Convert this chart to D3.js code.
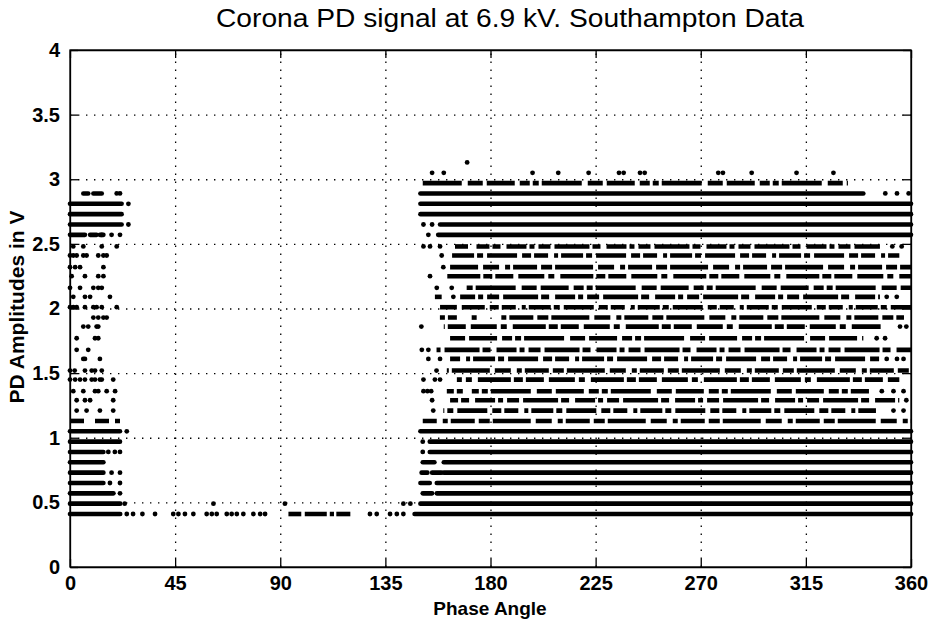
<!DOCTYPE html>
<html>
<head>
<meta charset="utf-8">
<script src="https://cdn.jsdelivr.net/npm/d3@7"></script>
<style>
body { margin: 0; background: #fff; }
svg text { font-family: Arial, "Liberation Sans", sans-serif; fill: #000; }
.grid line { stroke: #000; stroke-width: 1.3; stroke-dasharray: 1.4 6.6; }
.grid path { display: none; }
.axis path, .axis line { stroke: #000; stroke-width: 1.3; }
.axis text { font-size: 20px; font-weight: bold; }
</style>
</head>
<body>
<svg id="chart" width="938" height="623"></svg>
<script>
// ---- data ----
const xTicks = [0, 45, 90, 135, 180, 225, 270, 315, 360];
const yTicks = [0, 0.5, 1, 1.5, 2, 2.5, 3, 3.5, 4];

// quantised amplitude levels (V)
const levels = [0.41, 0.49, 0.57, 0.65, 0.73, 0.81, 0.89, 0.97, 1.05, 1.13, 1.21, 1.29, 1.36, 1.45, 1.52, 1.61, 1.68,
    1.77, 1.86, 1.93, 2.01, 2.09, 2.16, 2.25, 2.32, 2.41, 2.48, 2.57, 2.65, 2.73, 2.81, 2.89, 2.97];

// continuous runs of pulses, [from, to] phase, one list per level
const solidRuns = [
    [[0, 21.5], [147.5, 360]],
    [[0, 21.5], [150, 360]],
    [[0, 18.6], [151, 155], [157, 360]],
    [[0, 14.3], [150, 154], [157, 360]],
    [[0, 14.3], [150.5, 153], [155, 159], [160, 360]],
    [[0, 14.3], [151, 156], [160, 360]],
    [[0, 14.3], [154, 360]],
    [[0, 21.4], [154, 360]],
    [[0, 21.4], [150, 360]],
    [], [], [], [], [], [], [], [], [], [], [], [], [], [], [], [], [], [],
    [[0, 6.4], [8.6, 11.4], [12.8, 14.3], [157.6, 360]],
    [[0, 22.1], [158.4, 360]],
    [[0, 22.1], [150, 360]],
    [[0, 22.1], [150, 360]],
    [[5.7, 7.8], [10, 13.6], [150, 339.6]],
    []
];

// broken runs (pulses with small gaps), one list per level
const brokenRuns = [
    [[93.5, 99], [100.5, 113], [114, 120]],
    [], [], [], [], [], [], [], [],
    [[0, 6.4], [10.7, 21.4], [151, 360]],
    [[159.8, 345]],
    [[162.7, 355]],
    [[161.3, 168.4], [172, 342]],
    [[165.6, 355]],
    [[161.3, 360]],
    [[162.7, 346.7]],
    [[156.9, 360]],
    [[162.7, 339.6]],
    [[160, 347]],
    [[156.2, 165.6], [169.8, 174.8], [182.5, 357]],
    [[158.4, 165.6], [167.7, 360]],
    [[156.2, 159.1], [167, 346.7]],
    [[169.8, 360]],
    [[159.8, 360]],
    [[162.7, 360]],
    [[162.7, 355]],
    [[164.8, 171.3], [174, 346.7]],
    [], [], [], [], [],
    [[151, 333]]
];

// single pulses, phase values per level
const singlePulses = [
    [24.3, 27, 31, 36.4, 44.2, 46.4, 49.2, 52.8, 58.5, 60.7, 62.8, 67.1, 69.2, 71.4, 74.2, 78.5, 81.4, 83.5,
        128.4, 131.3, 137, 139.9, 142.7],
    [23.4, 61.4, 92, 142.7, 145.7],
    [21.4],
    [17.1, 21.4],
    [17.8, 21.4],
    [],
    [16.4, 19.2, 21.4, 151],
    [151],
    [24.3],
    [],
    [2.85, 7.1, 12.8, 18.5, 155.5, 352.5, 356.8],
    [2.85, 6.4, 8.6, 18.5, 155, 358],
    [1.4, 5.7, 10.7, 12.1, 15.7, 19.3, 151.3, 153, 154.6, 347.5, 352.5, 356.8],
    [0, 2.2, 4.3, 6.4, 9.3, 10.7, 12.8, 13.6, 18.5, 151.3, 156.2, 158.4],
    [0, 2, 6.4, 9.3, 10.7, 13.6, 156.9],
    [5.7, 6.4, 12.8, 153.4, 158.4, 349.6, 354, 356.8],
    [2.85, 7.8, 150.6, 153.4],
    [2.85, 10.7, 12.1, 345.3, 348.9],
    [5.7, 7.8, 11.4, 12.1, 150.4, 355.3, 358],
    [10, 12.1, 14.3, 15.7],
    [0, 1.4, 2.85, 6.4, 10, 11.4, 13.6, 20],
    [1.4, 6.4, 8.6, 17.1, 164.1, 349.6, 353.9],
    [0, 4.3, 10, 12.1, 13.6, 157, 163.4],
    [0.7, 6.4, 12.1, 14.3, 154.1],
    [0, 2.2, 4.3, 14.3, 159.8],
    [0, 1.4, 2.85, 5.7, 7.1, 12.1, 14.3, 15.7, 159.1],
    [1.4, 5.7, 13.6, 20, 151.3, 154.1, 158.4, 352, 356],
    [13.6, 17.8, 21.4, 153.4],
    [25, 151.3, 155],
    [],
    [25],
    [20, 21.4, 349, 354, 359],
    []
];

// the few pulses above 3 V
const topPhases = [155, 160, 170, 198, 209, 222, 235, 237, 244, 246, 277.5, 279.5, 291.8, 311, 326.8];
const topAmps = [3.05, 3.05, 3.13, 3.05, 3.05, 3.05, 3.05, 3.05, 3.05, 3.05, 3.05, 3.05, 3.05, 3.05, 3.05];

// ---- layout ----
const margin = {top: 50, right: 27, bottom: 56, left: 70},
    width = 938 - margin.left - margin.right,
    height = 623 - margin.top - margin.bottom;

const svg = d3.select("#chart")
    .append("g")
    .attr("transform", "translate(" + margin.left + "," + margin.top + ")");

const x = d3.scaleLinear().domain([0, 360]).range([0, width]);
const y = d3.scaleLinear().domain([0, 4]).range([height, 0]);

// dotted grid
svg.append("g")
    .attr("class", "grid")
    .attr("transform", "translate(0," + height + ")")
    .call(d3.axisBottom(x).tickValues(xTicks.slice(1, -1)).tickSize(-height).tickFormat(""));

svg.append("g")
    .attr("class", "grid")
    .call(d3.axisLeft(y).tickValues(yTicks.slice(1, -1)).tickSize(-width).tickFormat(""));

// irregular dash patterns for the broken runs
const dashes = ["22 3 6 4 30 5 9 3 14 6 4 3", "12 4 35 3 8 6 20 3 5 4", "28 5 10 3 6 3 40 6 15 4",
    "9 3 18 5 26 4 6 6 33 3", "16 6 5 3 24 4 11 3 38 5"];

const brokenLines = [];
brokenRuns.forEach(function (runs, i) {
    runs.forEach(function (r) { brokenLines.push({amp: levels[i], from: r[0], to: r[1], k: i}); });
});
svg.selectAll(".broken")
    .data(brokenLines)
    .enter().append("line")
    .attr("class", "broken")
    .attr("x1", function (d) { return x(d.from); })
    .attr("x2", function (d) { return x(d.to); })
    .attr("y1", function (d) { return y(d.amp); })
    .attr("y2", function (d) { return y(d.amp); })
    .attr("stroke", "#000")
    .attr("stroke-width", 4.6)
    .attr("stroke-dasharray", function (d) { return dashes[d.k % dashes.length]; })
    .attr("stroke-dashoffset", function (d) { return d.k * 13; });

const solidLines = [];
solidRuns.forEach(function (runs, i) {
    runs.forEach(function (r) { solidLines.push({amp: levels[i], from: r[0], to: r[1]}); });
});
svg.selectAll(".solid")
    .data(solidLines)
    .enter().append("line")
    .attr("class", "solid")
    .attr("x1", function (d) { return x(d.from); })
    .attr("x2", function (d) { return x(d.to); })
    .attr("y1", function (d) { return y(d.amp); })
    .attr("y2", function (d) { return y(d.amp); })
    .attr("stroke", "#000")
    .attr("stroke-width", 4.6)
    .attr("stroke-linecap", "round");

const dots = [];
singlePulses.forEach(function (ph, i) {
    ph.forEach(function (p) { dots.push({phase: p, amp: levels[i]}); });
});
topPhases.forEach(function (p, i) { dots.push({phase: p, amp: topAmps[i]}); });

svg.selectAll(".pulse")
    .data(dots)
    .enter().append("circle")
    .attr("class", "pulse")
    .attr("cx", function (d) { return x(d.phase); })
    .attr("cy", function (d) { return y(d.amp); })
    .attr("r", 2.4)
    .attr("fill", "#000");

// axes with inward ticks
svg.append("g")
    .attr("class", "axis")
    .attr("transform", "translate(0," + height + ")")
    .call(d3.axisBottom(x).tickValues(xTicks).tickSizeInner(-8).tickSizeOuter(0).tickPadding(9));

svg.append("g")
    .attr("class", "axis")
    .call(d3.axisTop(x).tickValues(xTicks).tickSizeInner(-8).tickSizeOuter(0).tickFormat(""));

svg.append("g")
    .attr("class", "axis")
    .call(d3.axisLeft(y).tickValues(yTicks).tickSizeInner(-8).tickSizeOuter(0).tickPadding(10)
        .tickFormat(d3.format("~g")));

svg.append("g")
    .attr("class", "axis")
    .attr("transform", "translate(" + width + ",0)")
    .call(d3.axisRight(y).tickValues(yTicks).tickSizeInner(-8).tickSizeOuter(0).tickFormat(""));

svg.append("rect")
    .attr("width", width)
    .attr("height", height)
    .attr("fill", "none")
    .attr("stroke", "#000")
    .attr("stroke-width", 1.3);

// texts
d3.select("#chart").append("text")
    .attr("x", 510)
    .attr("y", 27)
    .attr("text-anchor", "middle")
    .attr("textLength", 588)
    .attr("lengthAdjust", "spacingAndGlyphs")
    .style("font-size", "25px")
    .text("Corona PD signal at 6.9 kV. Southampton Data");

d3.select("#chart").append("text")
    .attr("x", 490)
    .attr("y", 615)
    .attr("text-anchor", "middle")
    .style("font-size", "19px")
    .style("font-weight", "bold")
    .text("Phase Angle");

d3.select("#chart").append("text")
    .attr("transform", "translate(24,307) rotate(-90)")
    .attr("text-anchor", "middle")
    .style("font-size", "21px")
    .style("font-weight", "bold")
    .text("PD Amplitudes in V");
</script>
</body>
</html>
